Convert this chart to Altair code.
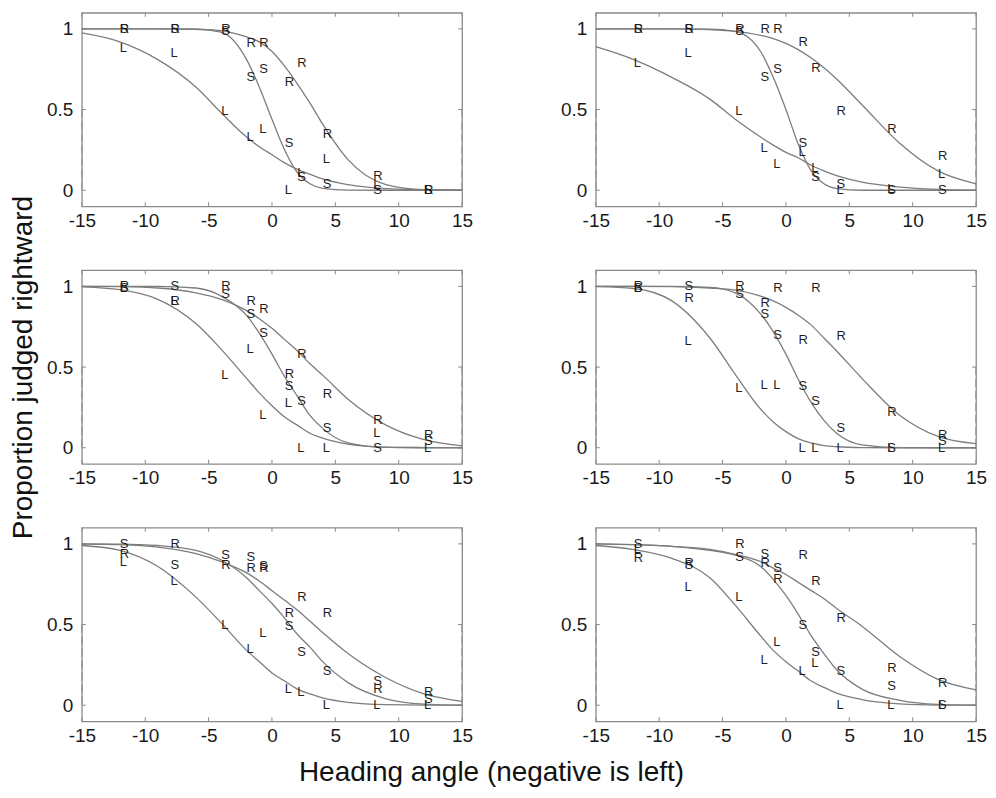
import altair as alt
import pandas as pd

# ---------------- data ----------------
X_PTS = [-12, -8, -4, -2, -1, 1, 2, 4, 8, 12]
X_FIT = [-15, -12, -9, -6, -4, -2, -1, 0, 1, 2, 3, 4, 6, 9, 12, 15]
X_TICKS = [-15, -10, -5, 0, 5, 10, 15]
Y_TICKS = [0, 0.5, 1]

# panel 1 (top left)
P1_L = [0.88, 0.85, 0.49, 0.33, 0.38, 0.00, 0.11, 0.195, 0.03, 0.00]
P1_S = [1.00, 1.00, 0.99, 0.70, 0.75, 0.29, 0.08, 0.04, 0.00, 0.00]
P1_R = [1.00, 1.00, 1.00, 0.91, 0.91, 0.67, 0.79, 0.35, 0.09, 0.00]
P1_L_FIT = [0.975, 0.92, 0.81, 0.64, 0.48, 0.33, 0.27, 0.22, 0.17, 0.13, 0.10, 0.07, 0.035, 0.01, 0.003, 0.0]
P1_S_FIT = [1.0, 1.0, 1.0, 0.998, 0.98, 0.81, 0.64, 0.44, 0.25, 0.11, 0.04, 0.012, 0.001, 0.0, 0.0, 0.0]
P1_R_FIT = [1.0, 1.0, 1.0, 0.999, 0.99, 0.95, 0.92, 0.86, 0.77, 0.66, 0.54, 0.41, 0.19, 0.035, 0.003, 0.0]

# panel 2 (top right)
P2_L = [0.79, 0.85, 0.49, 0.26, 0.16, 0.24, 0.14, 0.00, 0.01, 0.10]
P2_S = [1.00, 1.00, 0.99, 0.70, 0.75, 0.29, 0.08, 0.04, 0.00, 0.00]
P2_R = [1.00, 1.00, 1.00, 1.00, 1.00, 0.92, 0.76, 0.49, 0.38, 0.21]
P2_L_FIT = [0.89, 0.81, 0.70, 0.565, 0.44, 0.33, 0.28, 0.235, 0.20, 0.155, 0.12, 0.09, 0.05, 0.02, 0.006, 0.0]
P2_S_FIT = [1.0, 1.0, 1.0, 0.999, 0.985, 0.86, 0.70, 0.50, 0.28, 0.12, 0.04, 0.01, 0.0, 0.0, 0.0, 0.0]
P2_R_FIT = [1.0, 1.0, 1.0, 0.995, 0.985, 0.96, 0.94, 0.91, 0.87, 0.82, 0.76, 0.69, 0.53, 0.29, 0.12, 0.04]

# panel 3 (middle left)
P3_L = [0.99, 0.91, 0.45, 0.61, 0.20, 0.28, 0.00, 0.00, 0.09, 0.00]
P3_S = [0.99, 1.00, 0.95, 0.83, 0.71, 0.38, 0.29, 0.12, 0.00, 0.04]
P3_R = [1.00, 0.91, 1.00, 0.91, 0.86, 0.46, 0.58, 0.33, 0.17, 0.08]
P3_L_FIT = [0.997, 0.98, 0.92, 0.77, 0.61, 0.43, 0.34, 0.26, 0.19, 0.14, 0.09, 0.06, 0.023, 0.004, 0.001, 0.0]
P3_S_FIT = [1.0, 1.0, 1.0, 0.99, 0.94, 0.82, 0.71, 0.58, 0.44, 0.32, 0.20, 0.12, 0.03, 0.002, 0.0, 0.0]
P3_R_FIT = [1.0, 0.998, 0.99, 0.96, 0.92, 0.85, 0.80, 0.74, 0.67, 0.60, 0.52, 0.45, 0.30, 0.14, 0.05, 0.012]

# panel 4 (middle right)
P4_L = [0.99, 0.66, 0.37, 0.39, 0.39, 0.00, 0.00, 0.00, 0.00, 0.00]
P4_S = [0.99, 1.00, 0.95, 0.83, 0.70, 0.38, 0.29, 0.12, 0.00, 0.04]
P4_R = [1.00, 0.93, 1.00, 0.90, 0.99, 0.67, 0.99, 0.69, 0.22, 0.08]
P4_L_FIT = [0.999, 0.987, 0.91, 0.68, 0.455, 0.24, 0.16, 0.10, 0.055, 0.03, 0.013, 0.006, 0.001, 0.0, 0.0, 0.0]
P4_S_FIT = [1.0, 1.0, 1.0, 0.994, 0.96, 0.83, 0.72, 0.58, 0.42, 0.28, 0.17, 0.09, 0.018, 0.001, 0.0, 0.0]
P4_R_FIT = [1.0, 1.0, 0.999, 0.99, 0.977, 0.94, 0.91, 0.87, 0.82, 0.76, 0.68, 0.60, 0.43, 0.20, 0.07, 0.025]

# panel 5 (bottom left)
P5_L = [0.89, 0.77, 0.50, 0.35, 0.45, 0.10, 0.08, 0.00, 0.00, 0.00]
P5_S = [1.00, 0.87, 0.93, 0.92, 0.86, 0.49, 0.33, 0.21, 0.15, 0.04]
P5_R = [0.94, 1.00, 0.87, 0.85, 0.85, 0.57, 0.67, 0.57, 0.10, 0.08]
P5_L_FIT = [0.99, 0.96, 0.86, 0.67, 0.51, 0.34, 0.27, 0.20, 0.15, 0.10, 0.07, 0.046, 0.018, 0.003, 0.0, 0.0]
P5_S_FIT = [1.0, 0.999, 0.99, 0.96, 0.90, 0.79, 0.71, 0.63, 0.54, 0.44, 0.36, 0.27, 0.14, 0.04, 0.007, 0.0]
P5_R_FIT = [0.999, 0.995, 0.98, 0.94, 0.89, 0.82, 0.77, 0.71, 0.65, 0.59, 0.52, 0.45, 0.32, 0.17, 0.07, 0.024]

# panel 6 (bottom right)
P6_L = [0.97, 0.73, 0.67, 0.28, 0.39, 0.21, 0.26, 0.00, 0.00, 0.00]
P6_S = [1.00, 0.87, 0.92, 0.94, 0.85, 0.50, 0.33, 0.21, 0.12, 0.00]
P6_R = [0.91, 0.88, 1.00, 0.88, 0.78, 0.93, 0.77, 0.54, 0.23, 0.14]
P6_L_FIT = [0.99, 0.965, 0.91, 0.79, 0.62, 0.43, 0.34, 0.27, 0.21, 0.15, 0.11, 0.075, 0.035, 0.008, 0.001, 0.0]
P6_S_FIT = [1.0, 0.995, 0.985, 0.96, 0.93, 0.86, 0.78, 0.68, 0.56, 0.43, 0.32, 0.22, 0.10, 0.03, 0.005, 0.0]
P6_R_FIT = [1.0, 0.995, 0.985, 0.965, 0.935, 0.89, 0.85, 0.81, 0.76, 0.71, 0.66, 0.60, 0.49, 0.30, 0.16, 0.095]

Y_TITLE = "Proportion judged rightward"
X_TITLE = "Heading angle (negative is left)"

# ---------------- styling ----------------
FONT = "Liberation Sans"
W, H = 381, 194
XDOM = [-15, 15]
YDOM = [-0.1, 1.1]
TICK_DX = 0.315   # ~4px inward tick in x units
TICK_DY = 0.025   # ~4px inward tick in y units


def xs():
    return alt.Scale(domain=XDOM, nice=False, zero=False)


def ys():
    return alt.Scale(domain=YDOM, nice=False, zero=False)


def xaxis(title):
    if title:
        return alt.Axis(values=X_TICKS, labelExpr="'' + datum.value", title=title,
                        labelFlush=False, labelOverlap=False, labelPadding=5,
                        titleX=410, titleY=59, titleBaseline="alphabetic",
                        titleAlign="center")
    return alt.Axis(values=X_TICKS, labelExpr="'' + datum.value", title=None,
                    labelFlush=False, labelOverlap=False, labelPadding=5)


def yaxis(title):
    if title:
        return alt.Axis(values=Y_TICKS, labelExpr="'' + datum.value", title=title,
                        labelFlush=False, labelOverlap=False, labelPadding=9,
                        titlePadding=9)
    return alt.Axis(values=Y_TICKS, labelExpr="'' + datum.value", title=None,
                    labelFlush=False, labelOverlap=False, labelPadding=9)


def panel(L, S, R, Lf, Sf, Rf, ytitle=None, xtitle=None):
    pts = pd.DataFrame({
        "x": X_PTS * 3,
        "y": R + S + L,
        "cond": ["R"] * len(X_PTS) + ["S"] * len(X_PTS) + ["L"] * len(X_PTS),
    })
    fit = pd.DataFrame({
        "x": X_FIT * 3,
        "p": Lf + Sf + Rf,
        "cond": ["L"] * len(X_FIT) + ["S"] * len(X_FIT) + ["R"] * len(X_FIT),
    })
    xt = pd.DataFrame({"x": X_TICKS})
    yt = pd.DataFrame({"y": Y_TICKS})

    X = lambda f: alt.X(f, type="quantitative", scale=xs(), axis=xaxis(xtitle))
    Y = lambda f: alt.Y(f, type="quantitative", scale=ys(), axis=yaxis(ytitle))
    XD = lambda v: alt.XDatum(v, scale=xs(), axis=xaxis(xtitle))
    YD = lambda v: alt.YDatum(v, scale=ys(), axis=yaxis(ytitle))

    half = alt.Chart(pd.DataFrame({"x": XDOM})).mark_rule(
        color="#9a9a9a", strokeWidth=1.6, strokeDash=[8, 4]
    ).encode(x=X("x"), y=YD(0.5))

    curves = alt.Chart(fit).mark_line(interpolate="monotone", color="#7d7d7d", strokeWidth=1.3).encode(
        x=X("x"), y=Y("p"), detail="cond:N"
    )
    letters = alt.Chart(pts).mark_text(
        align="left", baseline="middle", font=FONT, fontSize=13, color="#1e1e1e"
    ).encode(x=X("x"), y=Y("y"), text="cond:N")

    tb = alt.Chart(xt).mark_rule(color="#8a8a8a", strokeWidth=1).encode(
        x=X("x"), y=YD(YDOM[0]), y2=alt.Y2Datum(YDOM[0] + TICK_DY))
    tt = alt.Chart(xt).mark_rule(color="#8a8a8a", strokeWidth=1).encode(
        x=X("x"), y=YD(YDOM[1]), y2=alt.Y2Datum(YDOM[1] - TICK_DY))
    tl = alt.Chart(yt).mark_rule(color="#8a8a8a", strokeWidth=1).encode(
        y=Y("y"), x=XD(XDOM[0]), x2=alt.X2Datum(XDOM[0] + TICK_DX))
    tr = alt.Chart(yt).mark_rule(color="#8a8a8a", strokeWidth=1).encode(
        y=Y("y"), x=XD(XDOM[1]), x2=alt.X2Datum(XDOM[1] - TICK_DX))

    return alt.layer(half, tb, tt, tl, tr, curves, letters).properties(width=W, height=H)


p1 = panel(P1_L, P1_S, P1_R, P1_L_FIT, P1_S_FIT, P1_R_FIT)
p2 = panel(P2_L, P2_S, P2_R, P2_L_FIT, P2_S_FIT, P2_R_FIT)
p3 = panel(P3_L, P3_S, P3_R, P3_L_FIT, P3_S_FIT, P3_R_FIT, ytitle=Y_TITLE)
p4 = panel(P4_L, P4_S, P4_R, P4_L_FIT, P4_S_FIT, P4_R_FIT)
p5 = panel(P5_L, P5_S, P5_R, P5_L_FIT, P5_S_FIT, P5_R_FIT, xtitle=X_TITLE)
p6 = panel(P6_L, P6_S, P6_R, P6_L_FIT, P6_S_FIT, P6_R_FIT)

chart = alt.ConcatChart(
    concat=[p1, p2, p3, p4, p5, p6],
    columns=2,
    spacing=alt.RowColnumber(row=64, column=134),
    bounds="flush",
).properties(
    padding={"left": 0, "top": 2, "right": 0, "bottom": 0},
).configure_axis(
    labelFont=FONT, labelFontSize=19, labelColor="#1a1a1a",
    titleFont=FONT, titleFontSize=28, titleFontWeight="normal", titleColor="#111111",
    domain=False, ticks=False, grid=False, tickSize=0,
).configure_view(
    stroke="#8a8a8a", strokeWidth=1.3
)

chart.save("out.html", embed_options={"renderer": "svg", "actions": False})
